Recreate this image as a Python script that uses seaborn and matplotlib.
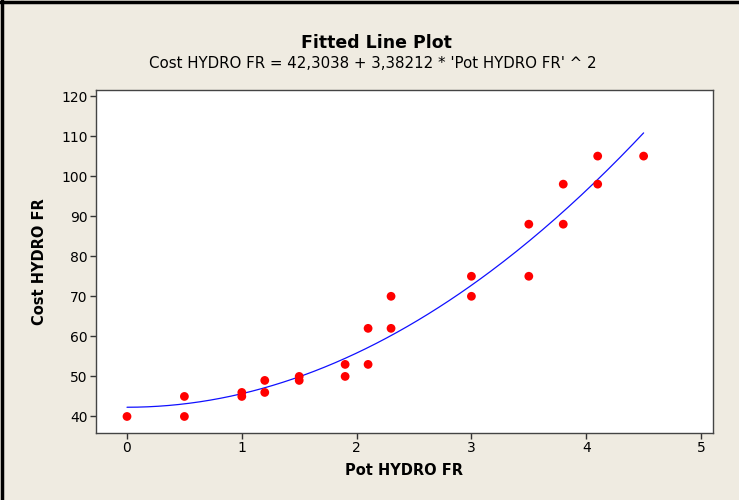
import numpy as np
import pandas as pd
import matplotlib
matplotlib.use("Agg")
import matplotlib.pyplot as plt
import seaborn as sns
from matplotlib.lines import Line2D

# Data
pot = [0, 0.5, 0.5, 1, 1, 1.2, 1.2, 1.5, 1.5, 1.9, 1.9, 2.1, 2.1, 2.3, 2.3,
       3, 3, 3.5, 3.5, 3.8, 3.8, 4.1, 4.1, 4.5]
cost = [40, 45, 40, 46, 45, 49, 46, 50, 49, 53, 50, 62, 53, 70, 62,
        75, 70, 88, 75, 98, 88, 105, 98, 105]
intercept = 42.3038
coef = 3.38212
x_ticks = [0, 1, 2, 3, 4, 5]
y_ticks = [40, 50, 60, 70, 80, 90, 100, 110, 120]

df = pd.DataFrame({"Pot HYDRO FR": pot, "Cost HYDRO FR": cost})
xs = np.linspace(min(pot), max(pot), 200)
fit = pd.DataFrame({"x": xs, "y": intercept + coef * xs ** 2})

sns.set_theme(style="white")
plt.rcParams["font.family"] = ["DejaVu Sans"]
plt.rcParams["text.color"] = "black"
plt.rcParams["axes.labelcolor"] = "black"
bg = "#EFEBE1"

fig = plt.figure(figsize=(7.39, 5.00), dpi=100, facecolor=bg)
ax = fig.add_axes([96 / 739, 1 - 432.5 / 500, (712.5 - 96) / 739, (432.5 - 90) / 500])
ax.set_facecolor("white")

sns.lineplot(data=fit, x="x", y="y", ax=ax, color="#1010FF", linewidth=0.9, zorder=2)
sns.scatterplot(data=df, x="Pot HYDRO FR", y="Cost HYDRO FR", ax=ax, color="#FF0000",
                s=40, edgecolor="none", linewidth=0, zorder=3)

ax.set_xlim(-0.27, 5.1)
ax.set_ylim(36.0, 121.5)
ax.set_xticks(x_ticks)
ax.set_yticks(y_ticks)
ax.tick_params(axis="both", which="both", direction="out", length=4, width=1,
               color="#333333", labelsize=10, labelcolor="black", pad=2,
               bottom=True, left=True, top=False, right=False)
for sp in ax.spines.values():
    sp.set_color("#444444")
    sp.set_linewidth(1.0)

ax.set_xlabel("Pot HYDRO FR", fontsize=10.5, fontweight="bold", labelpad=6, color="black")
ax.set_ylabel("Cost HYDRO FR", fontsize=10.5, fontweight="bold", labelpad=10, color="black")

fig.text(376 / 739, 1 - 43 / 500, "Fitted Line Plot",
         ha="center", va="center", fontsize=12.5, fontweight="bold", color="black")
fig.text(373 / 739, 1 - 64 / 500,
         "Cost HYDRO FR = 42,3038 + 3,38212 * 'Pot HYDRO FR' ^ 2",
         ha="center", va="center", fontsize=10.8, color="black")

# Frame lines at top and left
fig.add_artist(Line2D([0, 1], [1 - 1.5 / 500, 1 - 1.5 / 500], transform=fig.transFigure,
                      color="black", linewidth=2.5))
fig.add_artist(Line2D([1.5 / 739, 1.5 / 739], [0, 1], transform=fig.transFigure,
                      color="black", linewidth=2.5))

fig.savefig("out.png", dpi=100, facecolor=bg)
